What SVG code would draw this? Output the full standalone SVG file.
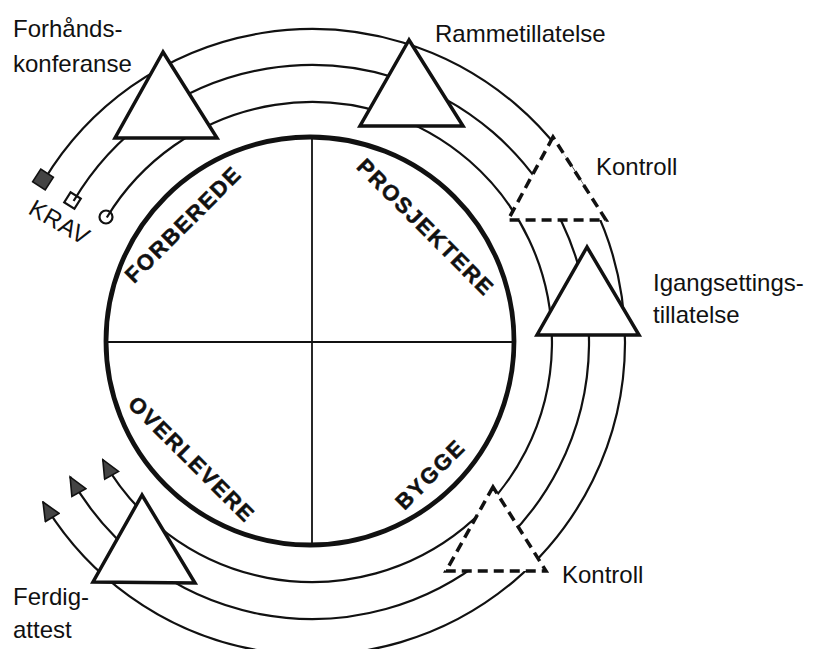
<svg xmlns="http://www.w3.org/2000/svg" width="813" height="649" viewBox="0 0 813 649">
<style>
.lbl{font-family:"Liberation Sans",Arial,sans-serif;font-size:24px;fill:#111}
.ph{font-family:"Liberation Sans",Arial,sans-serif;font-size:22px;font-weight:bold;letter-spacing:1.8px;fill:#111;stroke:#111;stroke-width:0.5;text-anchor:middle}
.arc{fill:none;stroke:#111;stroke-width:2.2}
.tri{fill:#fff;stroke:#111;stroke-width:3.5;stroke-linejoin:miter}
.dtri{fill:#fff;stroke:#111;stroke-width:3.5;stroke-dasharray:10 6}
.div{stroke:#111;stroke-width:1.8}
</style>
<defs>
<marker id="arr" markerUnits="userSpaceOnUse" markerWidth="21" markerHeight="18" refX="18" refY="8" orient="auto" viewBox="-1.5 -1 21 18">
<path d="M0,0 L18,8 L0,16 Z" fill="#444" stroke="#111" stroke-width="1.6"/>
</marker>
</defs>
<rect width="813" height="649" fill="#fff"/>

<g id="cycle">
<line class="div" x1="312" y1="137" x2="312" y2="545"/>
<line class="div" x1="106" y1="342" x2="514" y2="342"/>
<circle cx="310" cy="341" r="204" fill="none" stroke="#111" stroke-width="4.8"/>
<text class="ph" transform="translate(183,224) rotate(-45)" dy="8">FORBEREDE</text>
<text class="ph" transform="translate(426,227) rotate(45)" dy="8">PROSJEKTERE</text>
<text class="ph" transform="translate(192,459) rotate(45)" dy="8">OVERLEVERE</text>
<text class="ph" transform="translate(430,474) rotate(-45)" dy="8">BYGGE</text>
</g>

<g id="connectors">
<path class="arc" d="M44,180.3 A313,313 0 1 1 43,502" marker-end="url(#arr)"/>
<path class="arc" d="M73.6,201 A277,277 0 1 1 70.1,476.9" marker-end="url(#arr)"/>
<path class="arc" d="M106.8,217.5 A240,240 0 1 1 102.8,459.7" marker-end="url(#arr)"/>
<rect x="-7.5" y="-7.5" width="15" height="15" transform="translate(43,179.5) rotate(33)" fill="#444" stroke="#111" stroke-width="1.6"/>
<rect x="-6" y="-6" width="12" height="12" transform="translate(72.5,200.5) rotate(32)" fill="none" stroke="#111" stroke-width="2.2"/>
<circle cx="106" cy="217" r="6.5" fill="none" stroke="#111" stroke-width="2.2"/>
<text class="lbl" font-size="24" letter-spacing="0.5" transform="translate(27,213) rotate(30)">KRAV</text>
</g>

<g id="forhandskonferanse">
<polygon class="tri" points="163,52 115,138 217,138"/>
<text class="lbl" x="13" y="37">Forhånds-</text>
<text class="lbl" x="13" y="72">konferanse</text>
</g>

<g id="rammetillatelse">
<polygon class="tri" points="409,40 360,126 463,126"/>
<text class="lbl" x="435" y="42">Rammetillatelse</text>
</g>

<g id="kontroll1">
<polygon class="dtri" points="553,137 508,220 606,220"/>
<text class="lbl" x="596" y="175">Kontroll</text>
</g>

<g id="igangsettingstillatelse">
<polygon class="tri" points="587,247 537,335 639,335"/>
<text class="lbl" x="653" y="291">Igangsettings-</text>
<text class="lbl" x="653" y="323">tillatelse</text>
</g>

<g id="kontroll2">
<polygon class="dtri" points="493,487 446,571 546,571"/>
<text class="lbl" x="562" y="583">Kontroll</text>
</g>

<g id="ferdigattest">
<polygon class="tri" points="142,495 93,582 195,583"/>
<text class="lbl" x="13" y="605">Ferdig-</text>
<text class="lbl" x="13" y="638">attest</text>
</g>
</svg>
